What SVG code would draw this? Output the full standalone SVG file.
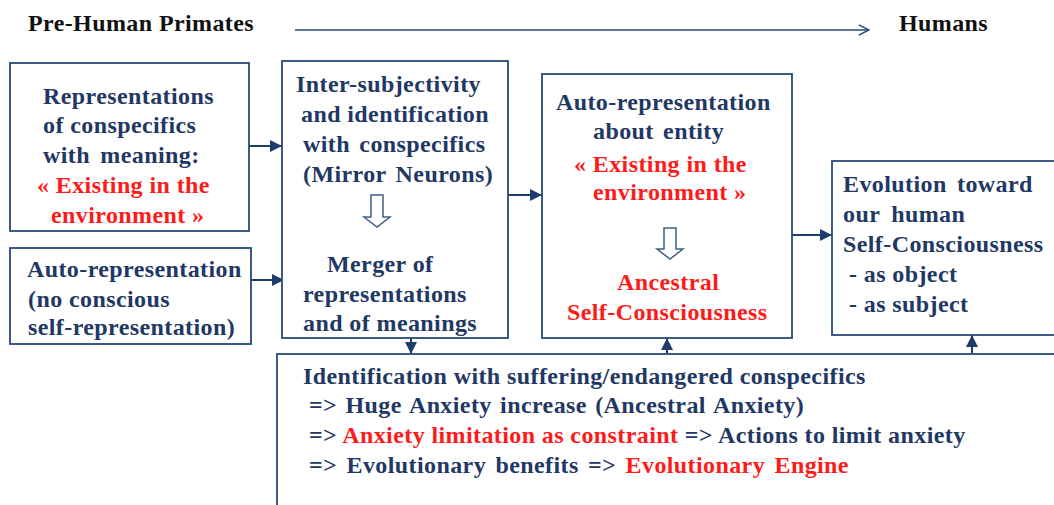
<svg xmlns="http://www.w3.org/2000/svg" width="1054" height="505" viewBox="0 0 1054 505">
<defs>
<style>
text{font-family:'Liberation Serif','Times New Roman',serif;font-weight:700;font-size:24px;letter-spacing:0.4px;fill:#1f3864}
.r{fill:#ff1a1a}
.h{fill:#111111}
.box{fill:#ffffff;stroke:#264a78;stroke-width:1.8}
.ln{stroke:#1f3d6b;stroke-width:2;fill:none}
.blk{fill:#ffffff;stroke:#3f5f85;stroke-width:1.5}
</style>
<marker id="ah" viewBox="0 0 10 10" refX="10" refY="5" markerWidth="6" markerHeight="6" markerUnits="strokeWidth" orient="auto">
<path d="M0,0 L10,5 L0,10 Z" fill="#1f3d6b"/>
</marker>
<marker id="oh" viewBox="0 0 10 10" refX="9" refY="5" markerWidth="8" markerHeight="8" markerUnits="strokeWidth" orient="auto">
<path d="M1,1 L9,5 L1,9" fill="none" stroke="#2a4a7a" stroke-width="1.2"/>
</marker>
</defs>
<rect width="1054" height="505" fill="#ffffff"/>

<g id="header">
<text class="h" x="28" y="31">Pre-Human Primates</text>
<text class="h" x="899" y="31">Humans</text>
</g>

<g id="connectors">
<line x1="295" y1="30" x2="869" y2="30" stroke="#2a4a7a" stroke-width="1.6" marker-end="url(#oh)"/>
<line class="ln" x1="249" y1="146" x2="282" y2="146" marker-end="url(#ah)"/>
<line class="ln" x1="251" y1="280" x2="284" y2="280" marker-end="url(#ah)"/>
<line class="ln" x1="508" y1="195" x2="542" y2="195" marker-end="url(#ah)"/>
<line class="ln" x1="787" y1="235" x2="832" y2="235" marker-end="url(#ah)"/>
<line class="ln" x1="411" y1="338" x2="411" y2="354" marker-end="url(#ah)"/>
<line class="ln" x1="667" y1="353" x2="667" y2="338" marker-end="url(#ah)"/>
<line class="ln" x1="972" y1="353" x2="972" y2="335" marker-end="url(#ah)"/>
</g>

<g id="node-representations">
<rect class="box" x="10" y="63" width="239" height="168"/>
<text x="43" y="104">Representations</text>
<text x="43" y="133">of conspecifics</text>
<text x="43" y="163" word-spacing="4">with meaning:</text>
<text class="r" x="37" y="193">« Existing in the</text>
<text class="r" x="51" y="223">environment »</text>
</g>

<g id="node-auto-representation">
<rect class="box" x="10" y="248" width="241" height="96"/>
<text x="27" y="277">Auto-representation</text>
<text x="28" y="307">(no conscious</text>
<text x="28" y="335">self-representation)</text>
</g>

<g id="node-intersubjectivity">
<rect class="box" x="282" y="61" width="226" height="277"/>
<text x="296" y="92">Inter-subjectivity</text>
<text x="301" y="122">and identification</text>
<text x="303" y="152" word-spacing="3">with conspecifics</text>
<text x="303" y="182" word-spacing="3">(Mirror Neurons)</text>
<polygon class="blk" points="371,195 383,195 383,217 390,217 377,227 364,217 371,217"/>
<text x="327" y="272">Merger of</text>
<text x="303" y="302">representations</text>
<text x="303" y="331">and of meanings</text>
</g>

<g id="node-ancestral">
<rect class="box" x="542" y="74" width="250" height="264"/>
<text x="556" y="110">Auto-representation</text>
<text x="593" y="139" word-spacing="3">about entity</text>
<text class="r" x="574" y="172">« Existing in the</text>
<text class="r" x="593" y="200">environment »</text>
<polygon class="blk" points="664,228 676,228 676,249 683,249 670,259 657,249 664,249"/>
<text class="r" x="617" y="290">Ancestral</text>
<text class="r" x="567" y="320">Self-Consciousness</text>
</g>

<g id="node-evolution">
<rect class="box" x="832" y="161" width="240" height="174"/>
<text x="843" y="192" word-spacing="4">Evolution toward</text>
<text x="843" y="222" word-spacing="5">our human</text>
<text x="843" y="252">Self-Consciousness</text>
<text x="849" y="282"> - as object</text>
<text x="849" y="312"> - as subject</text>
</g>

<g id="node-anxiety">
<rect class="box" x="277" y="354" width="800" height="200"/>
<text x="303" y="384">Identification with suffering/endangered conspecifics</text>
<text x="309" y="413" word-spacing="2">=&gt; Huge Anxiety increase  (Ancestral Anxiety)</text>
<text x="309" y="443">=&gt; <tspan class="r">Anxiety limitation as constraint</tspan> =&gt; Actions to limit anxiety</text>
<text x="309" y="473" word-spacing="3">=&gt; Evolutionary benefits =&gt; <tspan class="r">Evolutionary Engine</tspan></text>
</g>
</svg>
